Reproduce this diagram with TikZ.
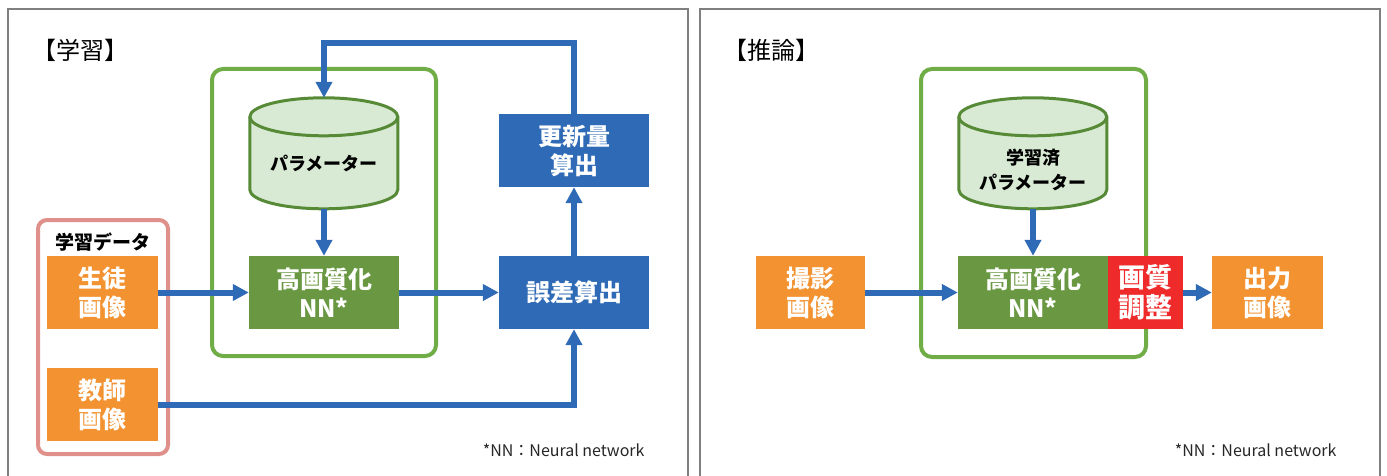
\documentclass[tikz,border=0pt]{standalone}
\usepackage{fontspec}
\setmainfont{Noto Sans CJK JP}
\usetikzlibrary{arrows.meta}
\definecolor{flowblue}{HTML}{2E6AB5}
\definecolor{imgorange}{HTML}{F39230}
\definecolor{nngreen}{HTML}{6A9842}
\definecolor{framegreen}{HTML}{70AD47}
\definecolor{cylfill}{HTML}{D8EAD3}
\definecolor{cylline}{HTML}{578A36}
\definecolor{adjred}{HTML}{EE2A2A}
\definecolor{datapink}{HTML}{E0908A}
\definecolor{panelgray}{HTML}{7F7F7F}

\begin{document}
\begin{tikzpicture}[x=1pt, y=1pt, >={Triangle[length=16pt,width=16pt]},
  panel/.style={draw=panelgray, line width=2pt},
  frame/.style={draw=framegreen, line width=4pt, rounded corners=11pt},
  datafr/.style={draw=datapink, line width=4pt, rounded corners=9pt},
  box/.style={minimum width=150pt, minimum height=73pt, inner sep=0pt, align=center,
    text=white, font=\fontsize{24}{29}\selectfont\bfseries},
  imgbox/.style={box, fill=imgorange, minimum width=111pt},
  nnbox/.style={box, fill=nngreen},
  calcbox/.style={box, fill=flowblue},
  cyl/.style={minimum width=148pt, minimum height=111pt, inner sep=0pt},
  cyltxt/.style={align=center, font=\fontsize{18}{25}\selectfont\bfseries},
  flow/.style={->, draw=flowblue, line width=6pt},
  title/.style={font=\fontsize{24}{28}\selectfont},
  note/.style={anchor=east, font=\fontsize{16}{19}\selectfont, text=black!85}
]
\useasboundingbox (0,0) rectangle (1387,475);
\draw[panel] (8,-10) rectangle (688,466);
\draw[panel] (700,-10) rectangle (1380,466);

% 学習
\node[title] (ttrain) at (80,425) {【学習】};
\draw[frame] (212,119) rectangle (436,406);
\draw[datafr] (38,21) rectangle (168,255);
\node[font=\fontsize{19}{22}\selectfont\bfseries] (dlbl) at (103,233) {学習データ};
\node[imgbox] (stu) at (102.5,182.5) {生徒\\画像};
\node[imgbox] (tea) at (102.5,70.5) {教師\\画像};
\node[cyl] (par) at (324,321.5) {};
\node[nnbox] (nn) at (324,182.5) {高画質化\\NN*};
\node[calcbox] (err) at (574,182.5) {誤差算出};
\node[calcbox] (upd) at (574,324.5) {更新量\\算出};
\coordinate (top) at (0,432);
\node[note] (ntrain) at (648,25) {*NN：Neural network};

% 推論
\node[title] (tinf) at (771,425) {【推論】};
\draw[frame] (921,118) rectangle (1146,406);
\node[imgbox, minimum width=109pt] (cam) at (810.5,182.5) {撮影\\画像};
\node[cyl] (par2) at (1033,321.5) {};
\node[nnbox] (nn2) at (1033,182.5) {高画質化\\NN*};
\node[box, fill=adjred, minimum width=75pt, font=\fontsize{27}{30}\selectfont\bfseries]
  (adj) at (1145.5,182.5) {画質\\調整};
\node[imgbox] (out) at (1267.5,182.5) {出力\\画像};
\node[note] (ninf) at (1340,25) {*NN：Neural network};

% cylinders
\foreach \n/\t/\s in {par/パラメーター/-10, par2/学習済\\パラメーター/-16} {
  \filldraw[fill=cylfill, draw=cylline, line width=3pt]
    (\n.north west) ++(0,-19) -- ++(0,-73)
    arc[start angle=180, end angle=360, x radius=74, y radius=19] -- ++(0,73)
    arc[start angle=0, end angle=180, x radius=74, y radius=19] -- cycle;
  \draw[cylline, line width=3pt] (\n.north west) ++(0,-19)
    arc[start angle=180, end angle=360, x radius=74, y radius=19];
  \node[cyltxt] at ([yshift=\s pt]\n.center) {\t};
}

\draw[flow] (stu.east) -- (stu.east -| nn.west);
\draw[flow] (nn) -- (err);
\draw[flow] (err) -- (upd);
\draw[flow] (upd.north) |- (par.north |- top) -- (par.north);
\draw[flow] (par) -- (nn);
\draw[flow] (tea.east) -| (err.south);

\draw[flow] (cam) -- (nn2);
\draw[flow] (par2) -- (nn2);
\draw[flow] (adj) -- (out);
\end{tikzpicture}
\end{document}
